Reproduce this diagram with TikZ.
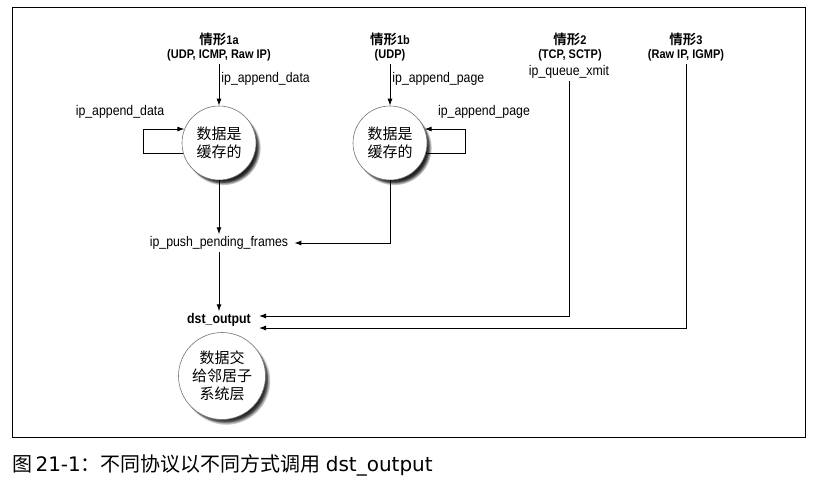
\documentclass[tikz,border=0pt]{standalone}
\usepackage{fontspec}
\setmainfont{Liberation Sans}[FakeStretch=0.88]
\newfontfamily\cjk{Noto Sans CJK SC}[BoldFont={Noto Sans CJK SC Bold}]
\newfontfamily\capfont{DejaVu Sans}
\usetikzlibrary{arrows.meta,shadows,positioning}
\newcommand{\zh}[1]{{\cjk #1}}

\begin{document}
\begin{tikzpicture}[x=1pt, y=-1pt,
  bubble/.style={circle, draw=black!55, line width=0.6pt, fill=white, align=center, inner sep=0pt,
    font=\cjk\fontsize{15}{18}\selectfont,
    circular drop shadow={shadow xshift=4pt, shadow yshift=-4.5pt, shadow scale=1.02, fill=black},
    drop shadow={shadow xshift=2.5pt, shadow yshift=-3pt, fill=black!75}},
  casehead/.style={align=center, inner sep=3pt, font=\bfseries\fontsize{12.5}{14.5}\selectfont},
  fn/.style={inner sep=2pt, font=\fontsize{14}{16}\selectfont},
  arrow/.style={-{Latex[length=7pt,width=5pt]}, line width=0.9pt}
]
\useasboundingbox (0,0) rectangle (817,482);
% outer frame and caption
\draw[line width=0.9pt] (12,7) rectangle (805,437);
\node[anchor=west, inner sep=0pt, font=\fontsize{20}{24}\selectfont] (caption) at (12,465)
  {\zh{图}\,{\capfont 21-1}\zh{：不同协议以不同方式调用} {\capfont dst\_output}};
% case 1a: buffered with ip_append_data
\node[casehead] (case1a) at (219,47) {\zh{\fontsize{13.5}{14}\selectfont 情形}1a\\(UDP, ICMP, Raw IP)};
\node[bubble, minimum size=74pt] (buf1a) at (219,143) {数据是\\缓存的};
\draw[arrow] (case1a) -- (buf1a) node[pos=0.35, right, fn] {ip\_append\_data};
\draw[arrow] (buf1a.197) -- ++(-40,0) |- (buf1a.158);
\node[fn] (loop1a) at (120,112) {ip\_append\_data};
% case 1b: buffered with ip_append_page
\node[casehead] (case1b) at (390,47) {\zh{\fontsize{13.5}{14}\selectfont 情形}1b\\(UDP)};
\node[bubble, minimum size=74pt] (buf1b) at (390,143) {数据是\\缓存的};
\draw[arrow] (case1b) -- (buf1b) node[pos=0.35, right, fn] {ip\_append\_page};
\draw[arrow] (buf1b.-17) -- ++(40,0) |- (buf1b.22);
\node[fn] (loop1b) at (484,112) {ip\_append\_page};
% flush and hand over to dst_output
\node[fn, inner xsep=6pt] (push) at (219,243) {ip\_push\_pending\_frames};
\draw[arrow] (buf1a) -- (push);
\draw[arrow] (buf1b) |- (push);
\node[fn, inner xsep=8pt, font=\bfseries\fontsize{14}{16}\selectfont] (dst) at (219,320) {dst\_output};
\draw[arrow] (push) -- (dst);
% case 2 and case 3 go straight to dst_output
\node[casehead] (case2) at (570,47) {\zh{\fontsize{13.5}{14}\selectfont 情形}2\\(TCP, SCTP)};
\node[fn] (xmit) at (569,72) {ip\_queue\_xmit};
\node[casehead] (case3) at (686,47) {\zh{\fontsize{13.5}{14}\selectfont 情形}3\\(Raw IP, IGMP)};
\draw[arrow] (xmit) |- ([yshift=4pt]dst.east);
\draw[arrow] (case3) |- ([yshift=-8pt]dst.east);
% neighbouring subsystem
\node[bubble, minimum size=87pt] (neigh) at (222,376) {数据交\\给邻居子\\系统层};
\end{tikzpicture}
\end{document}
